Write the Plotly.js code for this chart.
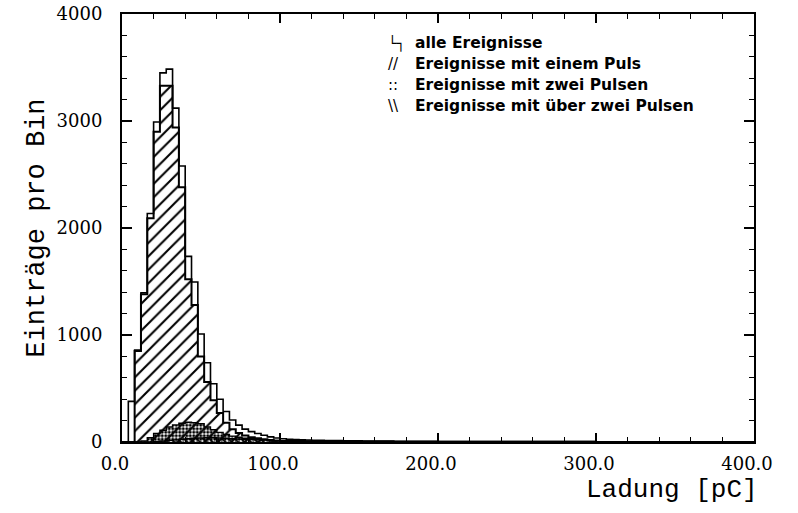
<!DOCTYPE html>
<html>
<head>
<meta charset="utf-8">
<script src="https://cdn.plot.ly/plotly-3.0.1.min.js"></script>
<style>html,body{margin:0;padding:0;background:#fff;}#chart{width:798px;height:513px;}</style>
</head>
<body>
<div id="chart"></div>
<script>
// ---- data ----
const binWidth = 4; // pC
const binLow = [0,4,8,12,16,20,24,28,32,36,40,44,48,52,56,60,64,68,72,76,80,84,88,92,96,
  100,104,108,112,116,120,124,128,132,136,140,144,148,152,156,160,164,168,172,176,180,184,188,192,196,
  200,204,208,212,216,220,224,228,232,236,240,244,248,252,256,260,264,268,272,276,280,284,288,292,296,
  300,304,308,312,316,320,324,328,332,336,340,344,348,352,356,360,364,368,372,376,380,384,388,392,396];

const alleEreignisse = [0,380,860,1395,2135,2990,3450,3485,3120,2580,1735,1495,1010,740,545,400,285,205,158,120,97,80,63,48,38,
  30,26,23,21,18,16,16,14,13,13,11,11,11,10,8,8,8,8,7,7,7,7,7,7,6,
  5,5,5,5,5,5,5,5,5,5,4,4,4,4,4,4,4,4,4,4,4,4,4,4,4,
  3,3,3,3,3,3,3,3,3,3,3,3,3,3,3,2,2,2,2,2,2,2,2,2,2];

const einPuls = [0,0,850,1380,2090,2900,3330,3330,2940,2380,1520,1280,800,560,390,270,180,120,85,60,45,35,25,18,12,
  8,6,5,4,3,2,2,2,1,1,1,1,1,0,0,0,0,0,0,0,0,0,0,0,0,
  0,0,0,0,0,0,0,0,0,0,0,0,0,0,0,0,0,0,0,0,0,0,0,0,0,
  0,0,0,0,0,0,0,0,0,0,0,0,0,0,0,0,0,0,0,0,0,0,0,0,0];

const zweiPulse = [0,0,0,10,40,80,110,140,160,175,185,180,170,140,115,90,70,55,45,35,30,25,20,15,12,
  10,8,7,6,5,4,4,3,3,3,2,2,2,2,1,1,1,1,1,1,1,1,1,1,1,
  0,0,0,0,0,0,0,0,0,0,0,0,0,0,0,0,0,0,0,0,0,0,0,0,0,
  0,0,0,0,0,0,0,0,0,0,0,0,0,0,0,0,0,0,0,0,0,0,0,0,0];

const ueberZweiPulse = [0,0,0,0,0,5,10,15,20,25,30,35,38,40,40,38,35,30,28,25,22,20,18,15,14,
  12,12,11,11,10,10,10,9,9,9,8,8,8,8,7,7,7,7,6,6,6,6,6,6,5,
  5,5,5,5,5,5,5,5,5,5,4,4,4,4,4,4,4,4,4,4,4,4,4,4,4,
  3,3,3,3,3,3,3,3,3,3,3,3,3,3,3,2,2,2,2,2,2,2,2,2,2];

const xTickVals = [0,100,200,300,400];
const xTickText = ['0.0','100.0','200.0','300.0','400.0'];
const yTickVals = [0,1000,2000,3000,4000];
const yTickText = ['0','1000','2000','3000','4000'];

const legendSymbols = ['\u2514\u2510','//','::','\\\\'];
const legendTexts = ['alle Ereignisse','Ereignisse mit einem Puls','Ereignisse mit zwei Pulsen','Ereignisse mit \u00fcber zwei Pulsen'];

// ---- step-histogram helper ----
function stepXY(lows, vals, w){
  const x=[lows[0]], y=[0];
  for(let i=0;i<lows.length;i++){ x.push(lows[i]); y.push(vals[i]); }
  const end = lows[lows.length-1]+w;
  x.push(end); y.push(vals[vals.length-1]);
  x.push(end); y.push(0);
  return {x,y};
}

function histTrace(vals, lw, pattern){
  const s = stepXY(binLow, vals, binWidth);
  const t = {type:'scatter', mode:'lines', x:s.x, y:s.y,
    line:{shape:'hv', color:'black', width:lw}, hoverinfo:'skip', showlegend:false};
  if(pattern){
    t.fill='tozeroy';
    t.fillcolor='rgba(0,0,0,0)';
    t.fillpattern = Object.assign({fgcolor:'black', bgcolor:'rgba(0,0,0,0)', fillmode:'replace'}, pattern);
  }
  return t;
}

const data = [
  histTrace(einPuls, 2, {shape:'/', size:9.5, solidity:0.22}),
  histTrace(zweiPulse, 1.4, {shape:'.', size:3.5, solidity:0.6}),
  histTrace(ueberZweiPulse, 1.4, {shape:'\\', size:4.5, solidity:0.4}),
  histTrace(alleEreignisse, 1.6, null)
];

const tickFont = {family:'DejaVu Serif', size:18, color:'black'};
const annotations = [];
const lineY = [0.932, 0.883, 0.834, 0.786];
for(let i=0;i<legendTexts.length;i++){
  annotations.push({xref:'paper', yref:'paper', x:0.418, y:lineY[i], xanchor:'left', yanchor:'middle',
    text:legendSymbols[i], showarrow:false,
    font:{family:'DejaVu Sans', size:(i===0?14:15), color:'black'}});
  annotations.push({xref:'paper', yref:'paper', x:0.461, y:lineY[i], xanchor:'left', yanchor:'middle',
    text:legendTexts[i], showarrow:false,
    font:{family:'DejaVu Sans', size:15.5, weight:'bold', color:'black'}});
}
annotations.push({xref:'paper', yref:'paper', x:1.01, y:-0.112, xanchor:'right', yanchor:'middle',
  text:'Ladung [pC]', showarrow:false, font:{family:'Liberation Mono', size:26, color:'black'}});
annotations.push({xref:'paper', yref:'paper', x:-0.135, y:0.5, xanchor:'center', yanchor:'middle',
  text:'Eintr\u00e4ge pro Bin', textangle:-90, showarrow:false, font:{family:'Liberation Mono', size:27, color:'black'}});

const layout = {
  width:798, height:513,
  margin:{l:122, r:44, t:14, b:71},
  paper_bgcolor:'white', plot_bgcolor:'white',
  showlegend:false,
  xaxis:{range:[0,400], showgrid:false, zeroline:false, showline:true, linecolor:'black', linewidth:2,
    mirror:'ticks', ticks:'inside', ticklen:9, tickwidth:1.5, tickcolor:'black',
    tickmode:'array', tickvals:xTickVals, ticktext:xTickText, tickfont:tickFont,
    ticklabelshift:-7, ticklabelstandoff:4,
    minor:{dtick:20, ticks:'inside', ticklen:5, tickwidth:1.2, tickcolor:'black', showgrid:false}},
  yaxis:{range:[0,4000], showgrid:false, zeroline:false, showline:true, linecolor:'black', linewidth:2,
    mirror:'ticks', ticks:'inside', ticklen:10, tickwidth:1.5, tickcolor:'black',
    tickmode:'array', tickvals:yTickVals, ticktext:yTickText, tickfont:tickFont,
    ticklabelstandoff:14,
    minor:{dtick:200, ticks:'inside', ticklen:5, tickwidth:1.2, tickcolor:'black', showgrid:false}},
  annotations:annotations
};

Plotly.newPlot('chart', data, layout, {displayModeBar:false, staticPlot:true});
</script>
</body>
</html>
